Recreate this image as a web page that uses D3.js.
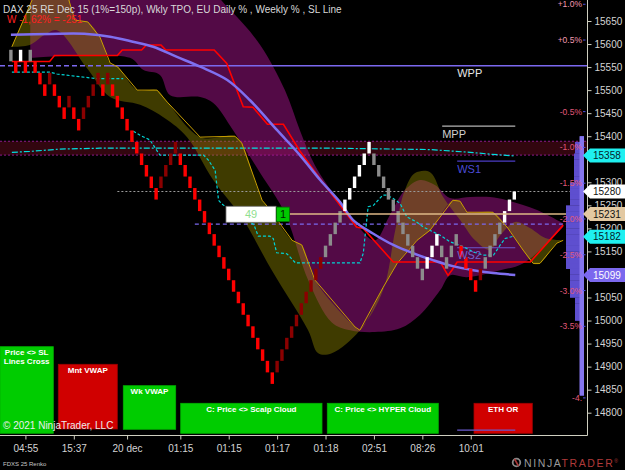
<!DOCTYPE html>
<html>
<head>
<meta charset="utf-8">
<script src="https://cdn.jsdelivr.net/npm/d3@7"></script>
<style>
html, body { margin: 0; padding: 0; background: #000; }
svg { display: block; font-family: "Liberation Sans", Arial, sans-serif; }
</style>
</head>
<body>
<svg id="chart" width="625" height="470"></svg>
<script>
// renko bricks (25 pt), low of each brick, colour code per brick
const brickSize = 25;
const lastPrice = 15280;
const brickLow = [
	15562.5, 15537.5, 15562.5, 15537.5, 15562.5, 15537.5, 15512.5, 15487.5, 15512.5, 15487.5,
	15462.5, 15437.5, 15462.5, 15437.5, 15412.5, 15437.5, 15462.5, 15487.5, 15512.5, 15487.5,
	15512.5, 15487.5, 15462.5, 15437.5, 15412.5, 15387.5, 15362.5, 15337.5, 15312.5, 15287.5,
	15262.5, 15287.5, 15312.5, 15337.5, 15362.5, 15337.5, 15312.5, 15287.5, 15262.5, 15237.5,
	15212.5, 15187.5, 15162.5, 15137.5, 15112.5, 15087.5, 15062.5, 15037.5, 15012.5, 14987.5,
	14962.5, 14937.5, 14912.5, 14887.5, 14862.5, 14887.5, 14912.5, 14937.5, 14962.5, 14987.5,
	15012.5, 15037.5, 15062.5, 15087.5, 15112.5, 15137.5, 15162.5, 15187.5, 15212.5, 15237.5,
	15262.5, 15287.5, 15312.5, 15337.5, 15362.5, 15337.5, 15312.5, 15287.5, 15262.5, 15237.5,
	15212.5, 15187.5, 15162.5, 15137.5, 15112.5, 15087.5, 15112.5, 15137.5, 15162.5, 15137.5,
	15112.5, 15137.5, 15162.5, 15137.5, 15112.5, 15087.5, 15062.5, 15087.5, 15112.5, 15137.5,
	15162.5, 15187.5, 15212.5, 15237.5, 15262.5
];
const brickKind = "grwrgrrrdr" + "rrdrrddddr" + "drrrrrrrrr" + "rddddrrrrr" + "rrrrrrrrrr" +
	"rrrrrddddd" + "dddddggggw" + "wwwwwggggg" + "ggggggwwwg" + "gggrrrrdgg" + "ggwww";

// time axis
const timeTickIdx = [3, 13, 24, 35, 45, 55, 65, 75, 85, 95];
const timeLabels = ["04:55", "15:37", "20 dec", "01:15", "01:15", "01:17", "01:18", "02:51", "08:26", "10:01"];

// price axis
const priceTicks = d3.range(14800, 15651, 50);

// indicator lines [bar index, price]
const slLine = [[0,15620],[8.1,15622],[15.7,15622],[20.5,15616],[25.2,15605],[29.4,15594],[34.3,15572],
	[39.1,15551],[44.7,15522],[49.4,15478],[55,15413],[59.7,15359],[63.9,15305],[68,15257],[70.7,15218],
	[74.8,15189],[79,15164],[83.1,15146],[87.2,15131],[91.3,15118],[95.5,15109],[99.6,15103],[104.2,15099]];
const redLine = [[0.2,15562],[8,15562],[9,15575],[22,15575],[23,15587],[27,15587],[28,15598],[31,15598],
	[32,15587],[42,15587],[44.6,15558],[48,15464],[50,15463],[53,15426],[56.3,15426],[59.7,15368],
	[63.9,15307],[71.4,15203],[72.8,15200],[79,15127],[88.7,15127],[90.3,15098],[91.1,15109],
	[92.2,15127],[107.3,15127],[114.1,15207]];
const goldLine = [[0.2,15594],[4.4,15696],[6,15730],[11,15730],[13.2,15652],[15.9,15648],[18.4,15615],
	[20.5,15559],[22.1,15550],[26.1,15500],[30.2,15500],[32.3,15474],[39.1,15398],[46.3,15400],
	[47.7,15385],[51.9,15261],[53.1,15246],[58.1,15174],[60.1,15164],[62.8,15088],[71.1,14986],
	[72.1,14979],[76.9,15072],[79.8,15124],[83.9,15174],[86.6,15196],[91.3,15261],[92.8,15259],
	[94.2,15235],[99.6,15235],[102.5,15203],[105.8,15153],[107.9,15124],[109.3,15124],[112.8,15168],
	[114.1,15174]];
const scalpEdge = [[0.2,15594],[3.9,15598],[7,15620],[9.5,15630],[15.7,15548],[20.5,15485],[26.7,15468],
	[31.8,15439],[36.4,15398],[41.8,15305],[47.7,15224],[53.9,15109],[61.4,14979],[63.5,14929],
	[66.3,14929],[72.1,14979],[76.9,15066],[79.4,15196],[81.4,15283],[83.5,15320],[86.6,15322],
	[89.3,15268],[92.8,15218],[95.9,15174],[99,15153],[101.1,15185],[104.2,15214],[107.3,15200],
	[110.4,15179],[114.1,15174]];
const hyperTop = [[4,15728],[39.1,15728],[45.3,15674],[51.5,15598],[56.6,15500],[59.7,15413],[62.8,15337],
	[68,15255],[71.5,15207],[75.2,15174],[78.3,15229],[81.4,15283],[84.5,15305],[87.6,15294],
	[90.7,15266],[94.9,15268],[99,15268],[102.5,15261],[108.7,15240],[114.1,15211]];
const hyperBottom = [[4,15570],[24.6,15570],[27.3,15544],[30.8,15533],[32.9,15489],[39.1,15485],
	[41.8,15472],[45.9,15413],[51.5,15320],[56.6,15233],[61.4,15088],[66.3,14996],[70.1,14979],
	[75.2,14975],[80.4,14983],[84.5,15012],[88.7,15066],[90.7,15098],[94.2,15094],[101.1,15109],
	[105.8,15124],[111.4,15174],[114.1,15203]];
const dailyVwapA = [[0.2,15539],[4.6,15539],[8.1,15539],[9.5,15535],[14.3,15529],[17.7,15525],[23.2,15525]];
const dailyVwapB = [[25.3,15411],[26.7,15402],[28.7,15392],[29.4,15381],[30.8,15359],[39.8,15359],
	[40.8,15348],[42.2,15326],[42.9,15261],[43.6,15253],[44.2,15248],[50.2,15208],[51.1,15183],
	[53.5,15183],[54.2,15178],[54.9,15147],[57,15145],[57.3,15142],[58.8,15125],[72.1,15125],
	[72.8,15146],[73.8,15247],[74.9,15250],[76.8,15272],[77.6,15272],[79,15265],[80.4,15254],
	[81.8,15225],[83.8,15214],[85.2,15203],[87.3,15192],[88.7,15185],[90.7,15171],[93.5,15160],
	[95.5,15149],[97.6,15142],[99.7,15142],[101.1,15164],[102.1,15178],[103.8,15183]];
const weeklyVwap = [[0.2,15365],[3.9,15367],[10.1,15372],[18.4,15374],[65.9,15374],[86.6,15371],
	[94.9,15365],[99,15361],[104.2,15357]];

// levels
const vwapBand = [15359, 15389];
const pivotNames = ["WPP", "MPP", "WS1", "WS2", "WS3"];
const pivotValues = [15553, 15422, 15346, 15158, 14762];
const dottedLevel = 15280;
const dashedLevel = 15209;
const openLevel = 15231;
const counterValues = ["49", "1"];
const flagValues = [15358, 15280, 15231, 15182, 15099];

// EU daily % levels
const pctRef = 15531;
const pctLevels = [1.0, 0.5, -0.5, -1.0, -1.5, -2.0, -2.5, -3.0, -3.5, -4.5];
const pctLabels = ["+1.0%", "+0.5%", "-0.5%", "-1.0%", "-1.5%", "-2.0%", "-2.5%", "-3.0%", "-3.5%", "-4."];

// weekly TPO rows (12.5 pt) from 14837.5
const tpoStart = 14837.5;
const tpoCounts = [4,4,4,4,4,4,4,4,4,4,4,4,4, 9,9,9,9, 14,14,14,14,14,
	18,18,18,18,18,18,18,18,18,18,18, 14,14,14,14, 10,10,10,10,10, 9,9, 4];

// alert boxes
const alertLabels = [["Price <> SL", "Lines Cross"], ["Mnt VWAP"], ["Wk VWAP"],
	["C: Price <> Scalp Cloud"], ["C: Price <> HYPER Cloud"], ["ETH OR"]];
const alertState = ["on", "off", "on", "on", "on", "off"];

const header = "DAX 25 RE Dec 15 (1%=150p), Wkly TPO, EU Daily % , Weekly % , SL Line";
const weekText = "W -1,62% = -251";

// ---------------------------------------------------------------
const svg = d3.select("#chart");
const plotRight = 587, plotBottom = 435;

const x = d3.scaleLinear().domain([0, 104]).range([10.9, 514.3]);
const y = d3.scaleLinear().domain([14800, 15650]).range([412.7, 21]);

svg.append("rect").attr("width", 625).attr("height", 470).attr("fill", "#000");
svg.append("clipPath").attr("id", "plot")
	.append("rect").attr("x", 0).attr("y", 0).attr("width", plotRight).attr("height", plotBottom);

const g = svg.append("g").attr("clip-path", "url(#plot)");

// weekly vwap band
g.append("rect")
	.attr("x", 0).attr("width", plotRight)
	.attr("y", y(vwapBand[1])).attr("height", y(vwapBand[0]) - y(vwapBand[1]))
	.attr("fill", "#32060f");
vwapBand.forEach(v => {
	g.append("line").attr("x1", 0).attr("x2", plotRight).attr("y1", y(v)).attr("y2", y(v))
		.attr("stroke", "#8b1a8b").attr("stroke-width", 1).attr("stroke-dasharray", "2,2");
});

// clouds
const smooth = d3.line().x(d => x(d[0])).y(d => y(d[1])).curve(d3.curveCatmullRom);
function cloudPath(a, b) {
	const back = smooth(b.slice().reverse());
	return smooth(a) + "L" + back.slice(1) + "Z";
}
g.append("path").attr("d", cloudPath(hyperTop, hyperBottom))
	.attr("fill", "rgb(165,20,140)").attr("fill-opacity", 0.5);
g.append("path").attr("d", cloudPath(goldLine, scalpEdge))
	.attr("fill", "rgb(150,140,0)").attr("fill-opacity", 0.42);

// horizontal levels
g.append("line").attr("x1", x(22)).attr("x2", plotRight).attr("y1", y(dottedLevel)).attr("y2", y(dottedLevel))
	.attr("stroke", "#9a9a9a").attr("stroke-dasharray", "2,2");
g.append("line").attr("x1", x(38)).attr("x2", plotRight).attr("y1", y(dashedLevel)).attr("y2", y(dashedLevel))
	.attr("stroke", "#7b68ee").attr("stroke-width", 1.2).attr("stroke-dasharray", "4,3");

const pivotStyle = [
	{ from: null, line: "#7b68ee", text: "#e6e6e6", width: 1.5 },
	{ from: 89.1, line: "#b4b4b4", text: "#d0d0d0", width: 1.2 },
	{ from: 92.2, line: "#4b3cc4", text: "#4b4bd8", width: 1.2 },
	{ from: 92.2, line: "#6a5acd", text: "#7262cc", width: 1.2 },
	{ from: 92.2, line: "#6a5acd", text: null, width: 1.2 }
];
pivotValues.forEach((v, i) => {
	const s = pivotStyle[i];
	if (s.from === null) {
		g.append("line").attr("x1", 0).attr("x2", 105).attr("y1", y(v)).attr("y2", y(v))
			.attr("stroke", s.line).attr("stroke-width", s.width).attr("stroke-dasharray", "5,3");
		g.append("line").attr("x1", 105).attr("x2", plotRight).attr("y1", y(v)).attr("y2", y(v))
			.attr("stroke", s.line).attr("stroke-width", s.width);
	} else if (s.text) {
		g.append("line").attr("x1", x(s.from)).attr("x2", x(104.2)).attr("y1", y(v)).attr("y2", y(v))
			.attr("stroke", s.line).attr("stroke-width", s.width);
	}
});

// indicator lines
const straight = d3.line().x(d => x(d[0])).y(d => y(d[1]));
[dailyVwapA, dailyVwapB].forEach(seg => {
	g.append("path").attr("d", straight(seg)).attr("fill", "none")
		.attr("stroke", "#00d4d4").attr("stroke-width", 1.2).attr("stroke-dasharray", "3,2");
});
g.append("path").attr("d", straight(weeklyVwap)).attr("fill", "none")
	.attr("stroke", "#00e0e0").attr("stroke-width", 1.2).attr("stroke-dasharray", "6,2,2,2");
g.append("path").attr("d", straight(goldLine)).attr("fill", "none")
	.attr("stroke", "#c9a000").attr("stroke-width", 1);
g.append("path").attr("d", straight(redLine)).attr("fill", "none")
	.attr("stroke", "#ff0000").attr("stroke-width", 1.6);
g.append("path").attr("d", smooth(slLine)).attr("fill", "none")
	.attr("stroke", "#7f6ff0").attr("stroke-width", 2.5);

// renko bricks
const brickColor = { g: "#8c8c8c", w: "#ffffff", r: "#ff0000", d: "#8b0000" };
const last = brickLow.length - 1;
g.append("g").selectAll("rect")
	.data(brickLow)
	.join("rect")
	.attr("x", (_, i) => x(i) - 1.7)
	.attr("width", 3.4)
	.attr("y", (d, i) => y(i === last ? lastPrice : d + brickSize))
	.attr("height", (d, i) => y(d) - y(i === last ? lastPrice : d + brickSize))
	.attr("fill", (_, i) => brickColor[brickKind[i]]);

// pivot labels
pivotValues.forEach((v, i) => {
	const s = pivotStyle[i];
	if (!s.text) return;
	const lx = s.from === null ? x(92.2) : x(s.from);
	g.append("text").attr("x", lx).attr("y", y(v) + 11.5)
		.attr("fill", s.text).attr("font-size", 11).text(pivotNames[i]);
});

// open level + counter box
g.append("line").attr("x1", 289.5).attr("x2", plotRight).attr("y1", y(openLevel)).attr("y2", y(openLevel))
	.attr("stroke", "#deb887").attr("stroke-width", 1.5);
const by = y(openLevel);
g.append("rect").attr("x", 226).attr("y", by - 7.8).attr("width", 50).attr("height", 16)
	.attr("fill", "#fff").attr("stroke", "#777").attr("stroke-width", 0.8);
g.append("text").attr("x", 251).attr("y", by + 4).attr("text-anchor", "middle")
	.attr("fill", "#8fe08f").attr("font-size", 11).text(counterValues[0]);
g.append("rect").attr("x", 276.5).attr("y", by - 7).attr("width", 13).attr("height", 14.5)
	.attr("fill", "#00c800").attr("stroke", "#007000").attr("stroke-width", 0.8);
g.append("text").attr("x", 283).attr("y", by + 4).attr("text-anchor", "middle")
	.attr("fill", "#002200").attr("font-size", 11).text(counterValues[1]);

// TPO profile
const tpo = svg.append("g");
const rowH = y(tpoStart) - y(tpoStart + 12.5);
tpo.selectAll("rect.row")
	.data(tpoCounts)
	.join("rect")
	.attr("class", "row")
	.attr("x", d => 584 - d)
	.attr("width", d => d)
	.attr("y", (_, i) => y(tpoStart + 12.5 * (i + 1)))
	.attr("height", rowH + 0.3)
	.attr("fill", "#5e4fcf");
tpo.append("rect").attr("x", 579.5).attr("width", 4.5)
	.attr("y", y(tpoStart + 12.5 * tpoCounts.length))
	.attr("height", y(tpoStart) - y(tpoStart + 12.5 * tpoCounts.length))
	.attr("fill", "#8576ee");

// percent levels
const pct = svg.append("g").attr("font-size", 8.5).attr("text-anchor", "end");
pctLevels.forEach((p, i) => {
	const py = y(pctRef * (1 + p / 100));
	pct.append("text").attr("x", 582).attr("y", py + 3)
		.attr("fill", p > 0 ? "#f09ab0" : "#e0587a").text(pctLabels[i]);
	pct.append("line").attr("x1", 583).attr("x2", 585.5).attr("y1", py).attr("y2", py)
		.attr("stroke", "#5050e0").attr("stroke-width", 1);
});

// axes
const axisColor = "#cfcfc0";
svg.append("line").attr("x1", plotRight + 0.5).attr("x2", plotRight + 0.5).attr("y1", 0).attr("y2", plotBottom + 0.5)
	.attr("stroke", axisColor);
svg.append("line").attr("x1", 0).attr("x2", plotRight + 0.5).attr("y1", plotBottom + 0.5).attr("y2", plotBottom + 0.5)
	.attr("stroke", axisColor);

// tick labels hidden under a price flag are left out, as in the reference
const visibleTicks = priceTicks.filter(t => flagValues.every(f => Math.abs(y(t) - y(f)) > 7));
const yAxis = svg.append("g").attr("transform", `translate(${plotRight + 0.5},0)`)
	.call(d3.axisRight(y).tickValues(visibleTicks).tickFormat(d3.format("d")).tickSize(4).tickPadding(3));
const xAxis = svg.append("g").attr("transform", `translate(0,${plotBottom + 0.5})`)
	.call(d3.axisBottom(x).tickValues(timeTickIdx).tickFormat((_, i) => timeLabels[i]).tickSize(4).tickPadding(5));
[yAxis, xAxis].forEach(a => {
	a.select(".domain").remove();
	a.selectAll("line").attr("stroke", axisColor);
	a.selectAll("text").attr("fill", "#d4d4d4").attr("font-size", 10)
		.attr("font-family", "'Liberation Sans', Arial, sans-serif");
});

// price flags
const flagStyle = [
	{ fill: "#1ff0f0", text: "#06232a" },
	{ fill: "#ffffff", text: "#111" },
	{ fill: "#e3c9a2", text: "#111" },
	{ fill: "#1ff0f0", text: "#06232a" },
	{ fill: "#7b68ee", text: "#ffffff" }
];
flagValues.forEach((v, i) => {
	const fy = y(v);
	svg.append("path")
		.attr("d", `M583,${fy} L590,${fy - 7} L625,${fy - 7} L625,${fy + 7} L590,${fy + 7} Z`)
		.attr("fill", flagStyle[i].fill);
	svg.append("text").attr("x", 593).attr("y", fy + 3.6)
		.attr("fill", flagStyle[i].text).attr("font-size", 10).text(v);
});

// alert boxes
const alertBox = [
	{ x: 0, y: 346.7, w: 53.3, h: 86.6 },
	{ x: 58.3, y: 364.3, w: 59, h: 64.7 },
	{ x: 123.3, y: 385.7, w: 52.4, h: 43.6 },
	{ x: 180.7, y: 403.3, w: 141.3, h: 30 },
	{ x: 327.3, y: 403.3, w: 111, h: 30 },
	{ x: 474, y: 403.3, w: 58.3, h: 30 }
];
alertLabels.forEach((lines, i) => {
	const b = alertBox[i];
	const on = alertState[i] === "on";
	svg.append("rect").attr("x", b.x).attr("y", b.y).attr("width", b.w).attr("height", b.h)
		.attr("fill", on ? "#00cc00" : "#d00000")
		.attr("stroke", on ? "#00b000" : "#a00000").attr("stroke-width", 0.8);
	lines.forEach((t, k) => {
		svg.append("text").attr("x", b.x + b.w / 2).attr("y", b.y + 8.3 + k * 8.5)
			.attr("text-anchor", "middle").attr("fill", "#fff").attr("font-weight", "bold")
			.attr("font-size", 8).text(t);
	});
});

// WS3 stub sits on top of the ETH OR box
const ws3 = pivotStyle[4];
svg.append("line").attr("x1", x(ws3.from)).attr("x2", x(104.2)).attr("y1", y(pivotValues[4])).attr("y2", y(pivotValues[4]))
	.attr("stroke", ws3.line).attr("stroke-width", ws3.width);

// texts
svg.append("text").attr("x", 3).attr("y", 12.5).attr("fill", "#d8d8d8").attr("font-size", 10).text(header);
svg.append("text").attr("x", 7).attr("y", 22.8).attr("fill", "#ff2020").attr("font-size", 10).text(weekText);
svg.append("text").attr("x", 3).attr("y", 428.5).attr("fill", "#ececec").attr("font-size", 10)
	.text("\u00a9 2021 NinjaTrader, LLC");
svg.append("text").attr("x", 3).attr("y", 466).attr("fill", "#c8c8c8").attr("font-size", 6)
	.text("FDXS 25 Renko");

// logo
svg.append("circle").attr("cx", 516.5).attr("cy", 462.5).attr("r", 3.8)
	.attr("fill", "none").attr("stroke", "#8a8a8a").attr("stroke-width", 1.8);
svg.append("path").attr("d", "M514.5,459 L518.5,466").attr("stroke", "#a83838").attr("stroke-width", 1.6);
const logo = svg.append("text").attr("x", 524).attr("y", 467).attr("font-size", 10.5)
	.attr("letter-spacing", 1.6);
logo.append("tspan").attr("fill", "#9a9a9a").text("NINJA");
logo.append("tspan").attr("fill", "#b03a3a").text("TRADER");
logo.append("tspan").attr("fill", "#b03a3a").attr("font-size", 5).attr("dy", -4).text("\u00ae");
</script>
</body>
</html>
